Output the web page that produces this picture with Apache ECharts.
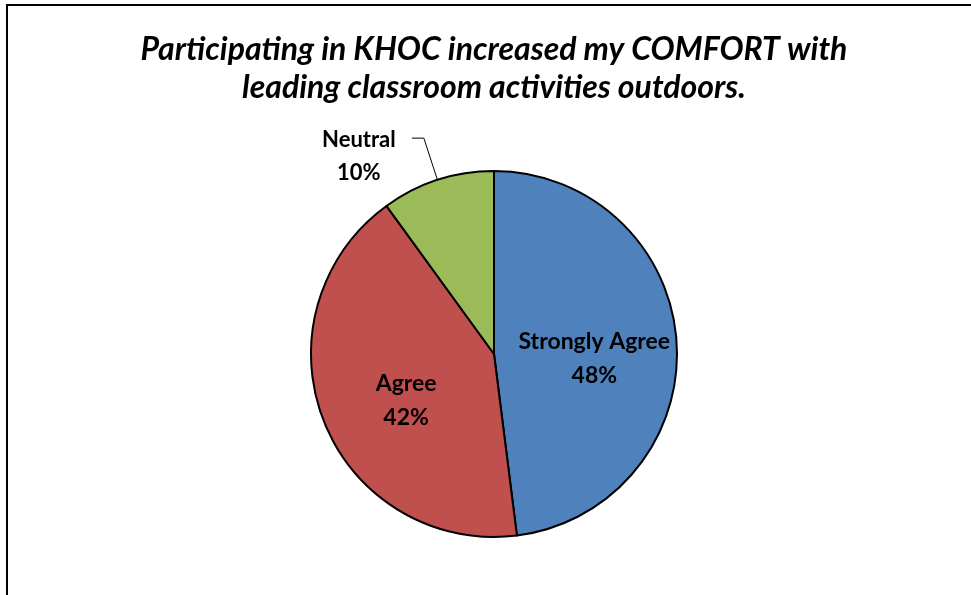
<!DOCTYPE html>
<html>
<head>
<meta charset="utf-8">
<script src="https://cdn.jsdelivr.net/npm/echarts@6/dist/echarts.min.js"></script>
<style>
  html, body { margin: 0; padding: 0; background: #fff; }
  #chart { width: 971px; height: 595px; }
</style>
</head>
<body>
<div id="chart"></div>
<script>
// data
const categories = ['Strongly Agree', 'Agree', 'Neutral']
const values = [48, 42, 10]
const colors = ['#4F81BD', '#C0504D', '#9BBB59']
const titleText = 'Participating in KHOC increased my COMFORT with\nleading classroom activities outdoors.'

const fontFam = '"Liberation Sans Narrow", Lato, sans-serif'

let myChart = echarts.init(document.getElementById('chart'))

// label nudges (style only)
const labelOffsets = { 'Strongly Agree': [6, 11], 'Agree': [0, 12] }

let seriesData = categories.map((name, i) => {
  let item = { name: name, value: values[i], itemStyle: { color: colors[i] } }
  if (name === 'Neutral') {
    // label outside with a leader line
    item.label = {
      show: true,
      position: 'outside',
      formatter: '{a|{b}}\n{a|{d}%}',
      fontWeight: 'bold',
      fontSize: 22,
      padding: [36, 0, 0, 0],
      rich: {
        a: { width: 96, align: 'center', fontSize: 22, fontWeight: 'bold', color: '#000', fontFamily: fontFam, lineHeight: 33 }
      }
    }
    item.labelLine = { show: true, length: 44, length2: 12, lineStyle: { color: '#000', width: 1 } }
  } else {
    item.label = { offset: labelOffsets[name] }
  }
  return item
})

let option = {
  backgroundColor: '#fff',
  animation: false,
  title: {
    text: titleText,
    left: 489, // title is centred over the pie, not the page
    top: 26,
    textAlign: 'center',
    textStyle: {
      fontFamily: fontFam,
      fontStyle: 'italic',
      fontWeight: 'bold',
      fontSize: 32,
      lineHeight: 38,
      color: '#000'
    }
  },
  graphic: [
    {
      type: 'rect',
      shape: { x: 7, y: 5, width: 1000, height: 700 },
      style: { fill: 'none', stroke: '#000', lineWidth: 2 },
      silent: true
    }
  ],
  series: [
    {
      type: 'pie',
      center: [494, 354],
      radius: 183,
      startAngle: 90,
      clockwise: true,
      avoidLabelOverlap: false,
      data: seriesData,
      itemStyle: { borderColor: '#000', borderWidth: 2 },
      label: {
        show: true,
        position: 'inside',
        formatter: '{b}\n{d}%',
        fontFamily: fontFam,
        fontSize: 23,
        fontWeight: 'bold',
        lineHeight: 34,
        color: '#000'
      },
      labelLine: { show: false }
    }
  ]
}

myChart.setOption(option)
</script>
</body>
</html>
